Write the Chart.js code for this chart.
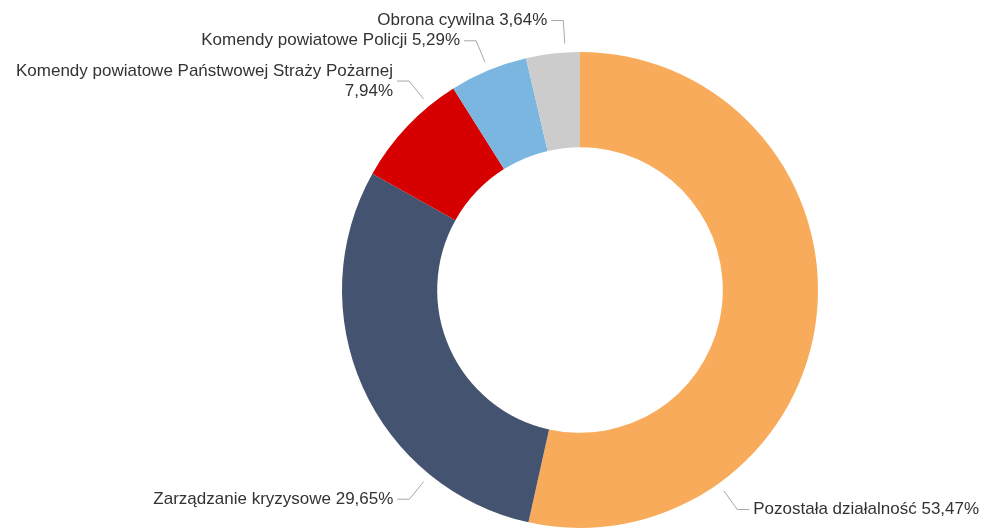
<!DOCTYPE html>
<html>
<head>
<meta charset="utf-8">
<script src="https://cdn.jsdelivr.net/npm/chart.js@4/dist/chart.umd.min.js"></script>
<style>
  html, body { margin: 0; padding: 0; background: #fff; }
  #wrap { width: 982px; height: 530px; position: relative; }
</style>
</head>
<body>
<div id="wrap"><canvas id="pie"></canvas></div>
<script>
const categories = [
    "Pozostała działalność",
    "Zarządzanie kryzysowe",
    "Komendy powiatowe Państwowej Straży Pożarnej",
    "Komendy powiatowe Policji",
    "Obrona cywilna"
];
const shares = [53.47, 29.65, 7.94, 5.29, 3.64];
const colors = ["#F8AB5A", "#44536F", "#D60000", "#7BB6E0", "#CCCCCC"];
// where inside each slice the label connector starts (0 = start, 1 = end)
const labelAt = [0.75, 0.25, 0.75, 0.5, 0.73];

const FONT = "17px 'Liberation Sans', Arial, sans-serif";

const outsideLabels = {
    id: "outsideLabels",
    afterDatasetsDraw(chart) {
        const ctx = chart.ctx;
        const meta = chart.getDatasetMeta(0);
        ctx.save();
        ctx.font = FONT;
        ctx.textBaseline = "middle";
        meta.data.forEach((arc, i) => {
            const a = arc.startAngle + (arc.endAngle - arc.startAngle) * labelAt[i];
            const r = arc.outerRadius;
            const cos = Math.cos(a), sin = Math.sin(a);
            const x1 = arc.x + (r + 9) * cos, y1 = arc.y + (r + 9) * sin;
            const x2 = arc.x + (r + 32) * cos, y2 = arc.y + (r + 32) * sin;
            const side = cos >= 0 ? 1 : -1;
            const x3 = x2 + side * 12;

            ctx.strokeStyle = "#A8A8A8";
            ctx.lineWidth = 1;
            ctx.beginPath();
            ctx.moveTo(x1, y1);
            ctx.lineTo(x2, y2);
            ctx.lineTo(x3, y2);
            ctx.stroke();

            const value = shares[i].toFixed(2).replace(".", ",") + "%";
            let lines = [categories[i] + " " + value];
            const tx = x3 + side * 4;
            if (side < 0 && tx - ctx.measureText(lines[0]).width < 5) {
                lines = [categories[i], value];
            }
            ctx.fillStyle = "#333333";
            ctx.textAlign = side > 0 ? "left" : "right";
            const lh = 20;
            lines.forEach((t, k) => {
                ctx.fillText(t, tx, y2 + (k - (lines.length - 1) / 2) * lh);
            });
        });
        ctx.restore();
    }
};

new Chart(document.getElementById("pie"), {
    type: "doughnut",
    data: {
        labels: categories,
        datasets: [{
            data: shares,
            backgroundColor: colors,
            borderWidth: 0,
            hoverOffset: 0
        }]
    },
    options: {
        responsive: true,
        maintainAspectRatio: false,
        animation: false,
        cutout: "60%",
        layout: { padding: { top: 52, bottom: 2, left: 300, right: 122 } },
        plugins: {
            legend: { display: false },
            tooltip: { enabled: false }
        }
    },
    plugins: [outsideLabels]
});
</script>
</body>
</html>
